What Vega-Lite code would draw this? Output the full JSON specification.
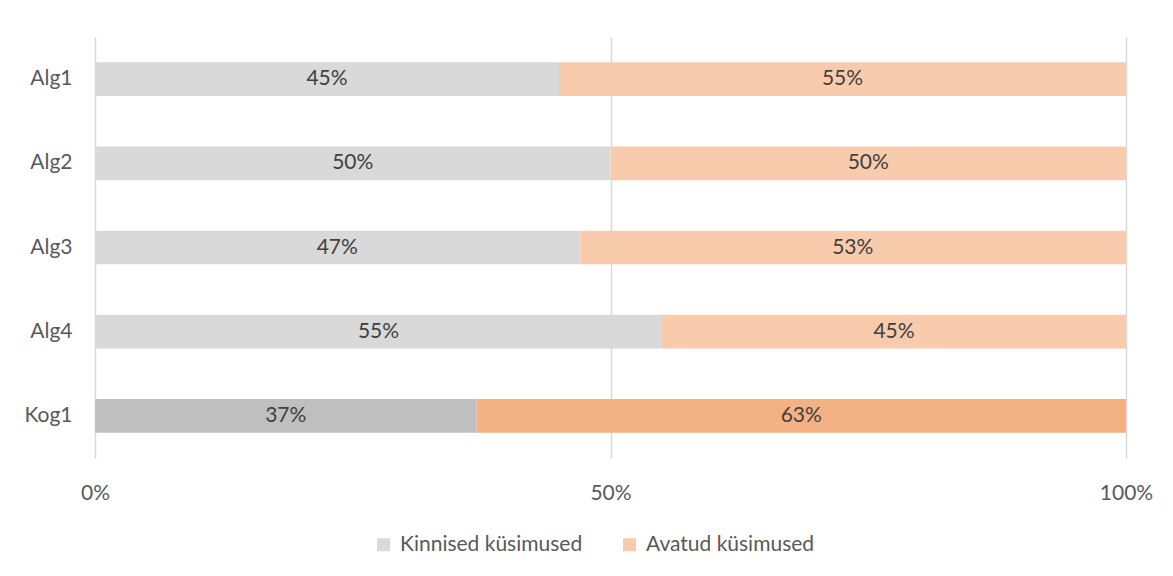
{
  "$schema": "https://vega.github.io/schema/vega-lite/v6.json",
  "width": 1031,
  "height": 421,
  "autosize": {"type": "none"},
  "padding": {"left": 95, "top": 37, "right": 47, "bottom": 118},
  "background": "white",
  "config": {
    "font": "Lato",
    "view": {"stroke": null},
    "axis": {"labelFont": "Lato", "labelFontSize": 21, "labelColor": "#595959"}
  },
  "data": {
    "values": [
      {"rida": "Alg1", "tyyp": "Kinnised küsimused", "osa": 0.45},
      {"rida": "Alg1", "tyyp": "Avatud küsimused", "osa": 0.55},
      {"rida": "Alg2", "tyyp": "Kinnised küsimused", "osa": 0.50},
      {"rida": "Alg2", "tyyp": "Avatud küsimused", "osa": 0.50},
      {"rida": "Alg3", "tyyp": "Kinnised küsimused", "osa": 0.47},
      {"rida": "Alg3", "tyyp": "Avatud küsimused", "osa": 0.53},
      {"rida": "Alg4", "tyyp": "Kinnised küsimused", "osa": 0.55},
      {"rida": "Alg4", "tyyp": "Avatud küsimused", "osa": 0.45},
      {"rida": "Kog1", "tyyp": "Kinnised küsimused", "osa": 0.37},
      {"rida": "Kog1", "tyyp": "Avatud küsimused", "osa": 0.63}
    ]
  },
  "transform": [
    {
      "stack": "osa",
      "groupby": ["rida"],
      "sort": [{"field": "tyyp", "order": "descending"}],
      "as": ["algus", "lopp"]
    },
    {"calculate": "(datum.algus + datum.lopp) / 2", "as": "kesk"}
  ],
  "encoding": {
    "y": {
      "field": "rida",
      "type": "nominal",
      "sort": null,
      "title": null,
      "scale": {"paddingInner": 0.6, "paddingOuter": 0.3},
      "axis": {"ticks": false, "tickSize": 0, "domain": false, "labelPadding": 23}
    }
  },
  "layer": [
    {
      "mark": {"type": "bar"},
      "encoding": {
        "x": {
          "field": "algus",
          "type": "quantitative",
          "title": null,
          "scale": {"domain": [0, 1], "nice": false},
          "axis": {
            "values": [0, 0.5, 1],
            "format": ".0%",
            "ticks": false,
            "tickSize": 0,
            "domain": false,
            "grid": true,
            "gridColor": "#D9D9D9",
            "gridWidth": 1.5,
            "labelFlush": false,
            "labelPadding": 24
          }
        },
        "x2": {"field": "lopp"},
        "color": {
          "condition": [
            {"test": "datum.rida === 'Kog1' && datum.tyyp === 'Kinnised küsimused'", "value": "#BFBFBF"},
            {"test": "datum.rida === 'Kog1' && datum.tyyp === 'Avatud küsimused'", "value": "#F4B183"}
          ],
          "field": "tyyp",
          "type": "nominal",
          "scale": {
            "domain": ["Kinnised küsimused", "Avatud küsimused"],
            "range": ["#D9D9D9", "#F8CBAD"]
          },
          "legend": {
            "title": null,
            "orient": "none",
            "direction": "horizontal",
            "legendX": 278,
            "legendY": 497,
            "symbolType": "square",
            "symbolSize": 169,
            "symbolStrokeWidth": 0,
            "labelFont": "Lato",
            "labelFontSize": 21,
            "labelColor": "#595959",
            "labelLimit": 400,
            "labelOffset": 6,
            "columnPadding": 36
          }
        }
      }
    },
    {
      "mark": {"type": "text", "font": "Lato", "fontSize": 21, "color": "#404040"},
      "encoding": {
        "x": {"field": "kesk", "type": "quantitative"},
        "text": {"field": "osa", "type": "quantitative", "format": ".0%"}
      }
    }
  ]
}
